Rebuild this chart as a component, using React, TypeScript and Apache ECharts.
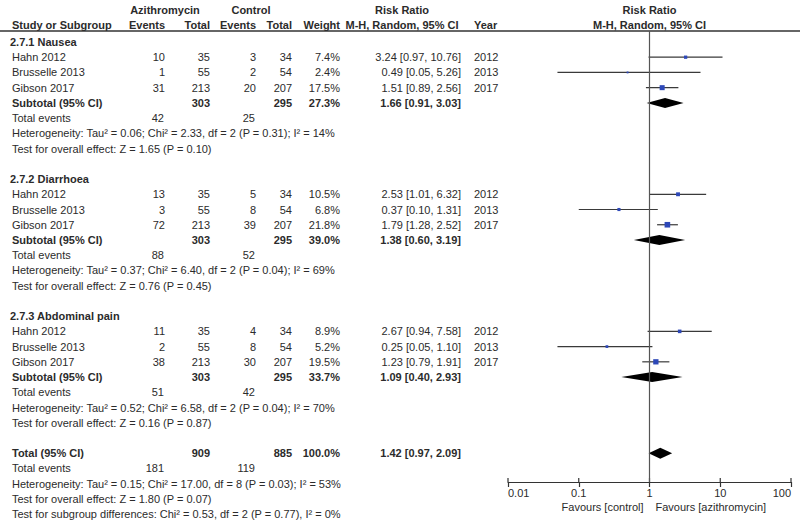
import React, { useEffect, useRef } from "react";
import * as echarts from "echarts";

// ---------- data ----------
const groupNames = ["2.7.1 Nausea", "2.7.2 Diarrhoea", "2.7.3 Abdominal pain"];
const studyNames = ["Hahn 2012", "Brusselle 2013", "Gibson 2017"];
const studyYears = ["2012", "2013", "2017"];
const azTotals = [35, 55, 213];
const ctrlTotals = [34, 54, 207];

const azEvents = [[10, 1, 31], [13, 3, 72], [11, 2, 38]];
const ctrlEvents = [[3, 2, 20], [5, 8, 39], [4, 8, 30]];
const weights = [[7.4, 2.4, 17.5], [10.5, 6.8, 21.8], [8.9, 5.2, 19.5]];
const rr = [[3.24, 0.49, 1.51], [2.53, 0.37, 1.79], [2.67, 0.25, 1.23]];
const rrLo = [[0.97, 0.05, 0.89], [1.01, 0.1, 1.28], [0.94, 0.05, 0.79]];
const rrHi = [[10.76, 5.26, 2.56], [6.32, 1.31, 2.52], [7.58, 1.1, 1.91]];

const subAzTotal = [303, 303, 303];
const subCtrlTotal = [295, 295, 295];
const subWeight = ["27.3%", "39.0%", "33.7%"];
const subRR = [1.66, 1.38, 1.09];
const subLo = [0.91, 0.6, 0.4];
const subHi = [3.03, 3.19, 2.93];
const subAzEvents = [42, 88, 51];
const subCtrlEvents = [25, 52, 42];
const subHet = [
  "Heterogeneity: Tau² = 0.06; Chi² = 2.33, df = 2 (P = 0.31); I² = 14%",
  "Heterogeneity: Tau² = 0.37; Chi² = 6.40, df = 2 (P = 0.04); I² = 69%",
  "Heterogeneity: Tau² = 0.52; Chi² = 6.58, df = 2 (P = 0.04); I² = 70%",
];
const subTest = [
  "Test for overall effect: Z = 1.65 (P = 0.10)",
  "Test for overall effect: Z = 0.76 (P = 0.45)",
  "Test for overall effect: Z = 0.16 (P = 0.87)",
];

const totAzTotal = 909;
const totCtrlTotal = 885;
const totWeight = "100.0%";
const totRR = 1.42;
const totLo = 0.97;
const totHi = 2.09;
const totAzEvents = 181;
const totCtrlEvents = 119;
const totHet = "Heterogeneity: Tau² = 0.15; Chi² = 17.00, df = 8 (P = 0.03); I² = 53%";
const totTest = "Test for overall effect: Z = 1.80 (P = 0.07)";
const subgroupTest = "Test for subgroup differences: Chi² = 0.53, df = 2 (P = 0.77), I² = 0%";

const xTicks = [0.01, 0.1, 1, 10, 100];

// ---------- helpers ----------
const FONT = "Liberation Sans, Arial, sans-serif";
const TXT = "#2b2b2b";
const fmt = (v: number) => v.toFixed(2);
const ciText = (r: number, l: number, h: number) => `${fmt(r)} [${fmt(l)}, ${fmt(h)}]`;

export default function App() {
  const ref = useRef<HTMLDivElement>(null);
  useEffect(() => {
    if (!ref.current) return;
    const chart = echarts.init(ref.current, undefined, { renderer: "svg" });

    const studyData: any[] = [];
    const diamondData: any[] = [];
    groupNames.forEach((_, g) => {
      const base = g * 9;
      for (let i = 0; i < 3; i++) {
        studyData.push([rrLo[g][i], rrHi[g][i], rr[g][i], base + 1 + i, weights[g][i]]);
      }
      diamondData.push([subLo[g], subRR[g], subHi[g], base + 4, 10]);
    });
    diamondData.push([totLo, totRR, totHi, 27, 11]);

    const Y_MAX = 28.89;

    chart.setOption({
      animation: false,
      grid: { left: 508, right: 9, top: 31, bottom: 43, containLabel: false },
      xAxis: {
        type: "log",
        logBase: 10,
        min: 0.01,
        max: 100,
        splitLine: { show: false },
        minorTick: { show: false },
        position: "bottom",
        axisLine: { show: true, onZero: false, lineStyle: { color: "#333", width: 1.2 } },
        axisTick: { show: true, length: 5, lineStyle: { color: "#333", width: 1.2 } },
        axisLabel: {
          show: true,
          color: TXT,
          fontFamily: FONT,
          fontSize: 11,
          margin: 5,
          alignMinLabel: "left",
          alignMaxLabel: "right",
          formatter: (v: number) => {
            const m = xTicks.find((t) => Math.abs(Math.log10(t) - Math.log10(v)) < 1e-6);
            return m !== undefined ? String(m) : "";
          },
        },
      },
      yAxis: {
        type: "value",
        inverse: true,
        min: -0.72,
        max: Y_MAX,
        show: false,
      },
      series: [
        {
          type: "custom",
          name: "studies",
          data: studyData,
          renderItem: (params: any, api: any) => {
            const lo = api.coord([api.value(0), api.value(3)]);
            const hi = api.coord([api.value(1), api.value(3)]);
            const c = api.coord([api.value(2), api.value(3)]);
            const s = 1.2 * Math.sqrt(api.value(4));
            return {
              type: "group",
              children: [
                {
                  type: "line",
                  shape: { x1: lo[0], y1: lo[1], x2: hi[0], y2: hi[1] },
                  style: { stroke: "#3a3a3a", lineWidth: 1.2 },
                },
                {
                  type: "rect",
                  shape: { x: c[0] - s / 2, y: c[1] - s / 2, width: s, height: s },
                  style: { fill: "#2d48b8" },
                },
              ],
            };
          },
          markLine: {
            silent: true,
            symbol: "none",
            label: { show: false },
            lineStyle: { color: "#555", width: 1.2, type: "solid" },
            data: [{ xAxis: 1 }],
          },
        },
        {
          type: "custom",
          name: "diamonds",
          data: diamondData,
          renderItem: (params: any, api: any) => {
            const l = api.coord([api.value(0), api.value(3)]);
            const m = api.coord([api.value(1), api.value(3)]);
            const r = api.coord([api.value(2), api.value(3)]);
            const h = api.value(4) / 2;
            return {
              type: "polygon",
              shape: {
                points: [
                  [l[0], l[1]],
                  [m[0], m[1] - h],
                  [r[0], r[1]],
                  [m[0], m[1] + h],
                ],
              },
              style: { fill: "#000" },
            };
          },
        },
        {
          type: "custom",
          name: "upTicks",
          data: xTicks.map((v) => [v, Y_MAX]),
          renderItem: (params: any, api: any) => {
            const p = api.coord([api.value(0), api.value(1)]);
            return {
              type: "line",
              shape: { x1: p[0], y1: p[1], x2: p[0], y2: p[1] - 4 },
              style: { stroke: "#333", lineWidth: 1.2 },
            };
          },
        },
      ],
    });

    const yOf = (k: number) => chart.convertToPixel({ yAxisIndex: 0 }, k) as number;
    const xOf = (v: number) => chart.convertToPixel({ xAxisIndex: 0 }, v) as number;

    const texts: any[] = [];
    const t = (x: number, y: number, text: string, align = "left", bold = false) =>
      texts.push({
        type: "text",
        x,
        y,
        style: {
          text,
          fill: TXT,
          font: `${bold ? "bold " : ""}11px ${FONT}`,
          textAlign: align,
          textVerticalAlign: "middle",
        },
      });

    // header
    const h1 = 9.5;
    const h2 = 24.5;
    t(165, h1, "Azithromycin", "center", true);
    t(251, h1, "Control", "center", true);
    t(402, h1, "Risk Ratio", "center", true);
    t(xOf(1), h1, "Risk Ratio", "center", true);
    t(12, h2, "Study or Subgroup", "left", true);
    t(165, h2, "Events", "right", true);
    t(210, h2, "Total", "right", true);
    t(256, h2, "Events", "right", true);
    t(292, h2, "Total", "right", true);
    t(340, h2, "Weight", "right", true);
    t(402, h2, "M-H, Random, 95% CI", "center", true);
    t(474, h2, "Year", "left", true);
    t(xOf(1), h2, "M-H, Random, 95% CI", "center", true);
    texts.push({
      type: "line",
      shape: { x1: 0, y1: 31, x2: 800, y2: 31 },
      style: { stroke: "#333", lineWidth: 1.5 },
    });

    groupNames.forEach((gn, g) => {
      const base = g * 9;
      t(10, yOf(base), gn, "left", true);
      for (let i = 0; i < 3; i++) {
        const y = yOf(base + 1 + i);
        t(12, y, studyNames[i]);
        t(165, y, String(azEvents[g][i]), "right");
        t(210, y, String(azTotals[i]), "right");
        t(256, y, String(ctrlEvents[g][i]), "right");
        t(292, y, String(ctrlTotals[i]), "right");
        t(340, y, `${weights[g][i].toFixed(1)}%`, "right");
        t(461, y, ciText(rr[g][i], rrLo[g][i], rrHi[g][i]), "right");
        t(474, y, studyYears[i]);
      }
      const ys = yOf(base + 4);
      t(12, ys, "Subtotal (95% CI)", "left", true);
      t(210, ys, String(subAzTotal[g]), "right", true);
      t(292, ys, String(subCtrlTotal[g]), "right", true);
      t(340, ys, subWeight[g], "right", true);
      t(461, ys, ciText(subRR[g], subLo[g], subHi[g]), "right", true);
      const ye = yOf(base + 5);
      t(12, ye, "Total events");
      t(164, ye, String(subAzEvents[g]), "right");
      t(255, ye, String(subCtrlEvents[g]), "right");
      t(12, yOf(base + 6), subHet[g]);
      t(12, yOf(base + 7), subTest[g]);
    });

    const yt = yOf(27);
    t(12, yt, "Total (95% CI)", "left", true);
    t(210, yt, String(totAzTotal), "right", true);
    t(292, yt, String(totCtrlTotal), "right", true);
    t(340, yt, totWeight, "right", true);
    t(461, yt, ciText(totRR, totLo, totHi), "right", true);
    t(12, yOf(28), "Total events");
    t(164, yOf(28), String(totAzEvents), "right");
    t(255, yOf(28), String(totCtrlEvents), "right");
    t(12, yOf(29), totHet);
    t(12, yOf(30), totTest);
    t(12, yOf(31), subgroupTest);

    t(xOf(1) - 6, 507, "Favours [control]", "right");
    t(xOf(1) + 6, 507, "Favours [azithromycin]", "left");

    chart.setOption({ graphic: { elements: texts } });

    return () => chart.dispose();
  }, []);

  return (
    <div
      ref={ref}
      style={{ position: "absolute", left: 0, top: 0, width: 800, height: 525 }}
    />
  );
}
